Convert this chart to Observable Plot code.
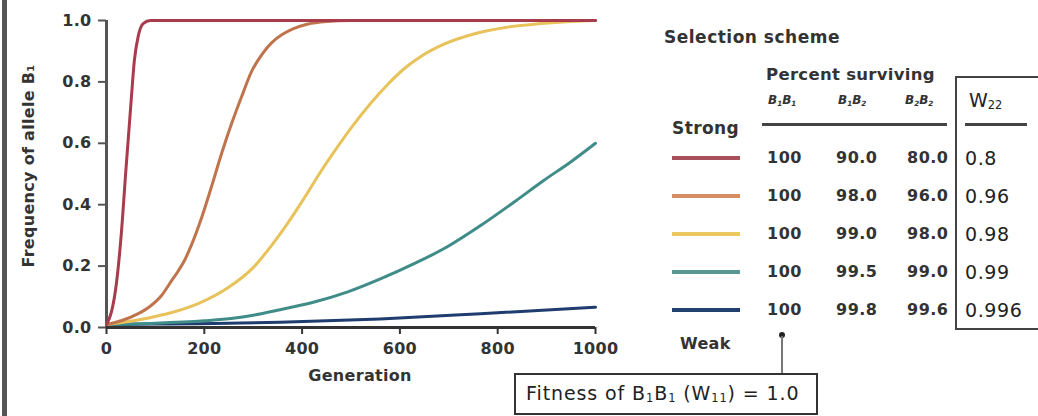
<!DOCTYPE html>
<html>
<head>
<meta charset="utf-8">
<script src="https://cdn.jsdelivr.net/npm/d3@7"></script>
<script src="https://cdn.jsdelivr.net/npm/@observablehq/plot@0.6"></script>
<style>
  html, body { margin: 0; padding: 0; background: #fff; }
  #page { position: relative; width: 1038px; height: 416px; overflow: hidden; background: #fff; color: #333; }
  #bar { position: absolute; left: 2px; top: 0; width: 5px; height: 416px; background: #555; }
  #chart { position: absolute; left: 0; top: 0; }
  .t { position: absolute; white-space: nowrap; transform: translateY(-50%); line-height: 1; }
  .b { font-family: "DejaVu Sans", sans-serif; font-weight: 700; color: #333; }
  .r { font-family: "DejaVu Sans", sans-serif; font-weight: 400; color: #222; }
  sub { font-size: 60%; vertical-align: -0.25em; line-height: 0; }
</style>
</head>
<body>
<div id="page">
  <div id="bar"></div>
  <div id="chart"></div>
  <div id="legend"></div>
</div>
<script>
// ---- curve data ----
const gen_w0800 = [0, 10, 20, 30, 40, 50, 57, 65, 75, 90, 200, 1000];
const frq_w0800 = [0.01, 0.05, 0.14, 0.30, 0.52, 0.73, 0.87, 0.95, 0.99, 1.0, 1.0, 1.0];

const gen_w0960 = [0, 30, 65, 90, 113, 130, 147, 160, 174, 195, 215, 236, 256, 277, 297, 318, 338, 360, 380, 410, 450, 500, 1000];
const frq_w0960 = [0.01, 0.022, 0.045, 0.07, 0.105, 0.145, 0.185, 0.22, 0.27, 0.36, 0.46, 0.57, 0.665, 0.755, 0.835, 0.89, 0.928, 0.955, 0.972, 0.988, 0.997, 1.0, 1.0];

const gen_w0980 = [0, 89, 130, 191, 249, 300, 335, 369, 403, 437, 471, 505, 539, 574, 608, 642, 689, 751, 819, 887, 950, 1000];
const frq_w0980 = [0.01, 0.032, 0.047, 0.08, 0.13, 0.195, 0.262, 0.336, 0.418, 0.505, 0.585, 0.66, 0.728, 0.79, 0.842, 0.882, 0.922, 0.956, 0.978, 0.99, 0.997, 1.0];

const gen_w0990 = [0, 100, 200, 259, 300, 355, 423, 492, 560, 628, 696, 765, 833, 894, 950, 1000];
const frq_w0990 = [0.01, 0.014, 0.022, 0.03, 0.04, 0.058, 0.082, 0.115, 0.158, 0.207, 0.262, 0.332, 0.408, 0.479, 0.54, 0.60];

const gen_w0996 = [0, 100, 191, 355, 560, 765, 1000];
const frq_w0996 = [0.01, 0.011, 0.012, 0.017, 0.028, 0.045, 0.066];

// ---- table data ----
const w22Labels   = ["0.8", "0.96", "0.98", "0.99", "0.996"];
const survB1B1    = ["100", "100", "100", "100", "100"];
const survB1B2    = ["90.0", "98.0", "99.0", "99.5", "99.8"];
const survB2B2    = ["80.0", "96.0", "98.0", "99.0", "99.6"];
const lineColors  = ["#a83c4c", "#bf744c", "#e8c25a", "#3f8c88", "#1f3c6e"];
const legendColors = ["#a8505c", "#d88e62", "#ecc860", "#5a9692", "#22406e"];

const xTicks = [0, 200, 400, 600, 800, 1000];
const yTicks = [0, 0.2, 0.4, 0.6, 0.8, 1.0];

const seriesGens  = [gen_w0800, gen_w0960, gen_w0980, gen_w0990, gen_w0996];
const seriesFreqs = [frq_w0800, frq_w0960, frq_w0980, frq_w0990, frq_w0996];

// build rows: weakest first so the strongest (red) is drawn on top
const rows = [];
for (let s = w22Labels.length - 1; s >= 0; s--) {
  seriesGens[s].forEach((g, i) => rows.push({gen: g, freq: seriesFreqs[s][i], w: w22Labels[s]}));
}

const chart = Plot.plot({
  width: 620,
  height: 416,
  marginLeft: 106,
  marginRight: 25,
  marginTop: 20,
  marginBottom: 89,
  style: {fontFamily: "DejaVu Sans, sans-serif", fontWeight: 700, fontSize: "16px", color: "#333", background: "transparent", letterSpacing: "0.3px"},
  x: {domain: [0, 1000]},
  y: {domain: [0, 1]},
  color: {domain: w22Labels, range: lineColors},
  marks: [
    Plot.axisY({ticks: yTicks, tickFormat: d3.format(".1f"), tickSize: 8, tickPadding: 7, label: null, stroke: "#555", strokeWidth: 2}),
    Plot.axisX({ticks: xTicks, tickFormat: d3.format("d"), tickSize: 7, tickPadding: 8, label: null, stroke: "#333", strokeWidth: 2}),
    Plot.ruleX([0], {stroke: "#555", strokeWidth: 3}),
    Plot.ruleY([0], {stroke: "#333", strokeWidth: 3}),
    Plot.line(rows, {x: "gen", y: "freq", z: "w", stroke: "w", strokeWidth: 3, curve: "monotone-x"}),
    Plot.text(["Generation"], {frameAnchor: "bottom", dx: 9, dy: 53, fontSize: 16, fill: "#333"}),
    Plot.text(["Frequency of allele B\u2081"], {frameAnchor: "left", textAnchor: "middle", dx: -78, dy: -8, rotate: -90, fontSize: 16, fill: "#333"})
  ]
});
document.getElementById("chart").appendChild(chart);

// ---- legend / table (HTML) ----
const L = document.getElementById("legend");
function add(html, cls, left, top, extra) {
  const d = document.createElement("div");
  d.className = "t " + cls;
  d.style.left = left + "px";
  d.style.top = top + "px";
  if (extra) Object.assign(d.style, extra);
  d.innerHTML = html;
  L.appendChild(d);
  return d;
}
function box(left, top, w, h, style) {
  const d = document.createElement("div");
  d.style.position = "absolute";
  d.style.left = left + "px"; d.style.top = top + "px";
  d.style.width = w + "px"; d.style.height = h + "px";
  Object.assign(d.style, style);
  L.appendChild(d);
  return d;
}

add("Selection scheme", "b", 664, 37, {fontSize: "17px", letterSpacing: "0.5px"});
add("Percent surviving", "b", 766, 75, {fontSize: "16.5px", letterSpacing: "0.3px"});
const hdrStyle = {fontSize: "12px", fontStyle: "italic"};
add("B<sub>1</sub>B<sub>1</sub>", "b", 768, 100, hdrStyle);
add("B<sub>1</sub>B<sub>2</sub>", "b", 838, 100, hdrStyle);
add("B<sub>2</sub>B<sub>2</sub>", "b", 905, 100, hdrStyle);
box(762, 123, 185, 3, {background: "#444"});
add("Strong", "b", 672, 128, {fontSize: "17px", letterSpacing: "0.4px"});
add("Weak", "b", 680, 344, {fontSize: "16px", letterSpacing: "0.3px"});

// W22 box
box(955, 76, 120, 250, {border: "2px solid #444"});
add("W<sub>22</sub>", "r", 969, 100, {fontSize: "19px"});
box(965, 123, 62, 3, {background: "#444"});

const rowY = [158, 196, 234, 272, 310];
w22Labels.forEach((w, i) => {
  box(672, rowY[i] - 2, 68, 4, {background: legendColors[i]});
  add(survB1B1[i], "b", 767, rowY[i], {fontSize: "16px", letterSpacing: "0.5px"});
  add(survB1B2[i], "b", 836, rowY[i], {fontSize: "16px", letterSpacing: "0.5px"});
  add(survB2B2[i], "b", 907, rowY[i], {fontSize: "16px", letterSpacing: "0.5px"});
  add(w, "r", 965, rowY[i], {fontSize: "19px", letterSpacing: "0.6px"});
});

// pointer + fitness box
box(779, 332, 6, 6, {background: "#222", borderRadius: "3px"});
box(781, 336, 2, 37, {background: "#777"});
box(514, 373, 300, 38, {border: "2px solid #333", background: "#fff"});
add("Fitness of B<sub>1</sub>B<sub>1</sub> (W<sub>11</sub>) = 1.0", "r", 526, 393, {fontSize: "19px", letterSpacing: "0.9px"});
</script>
</body>
</html>
